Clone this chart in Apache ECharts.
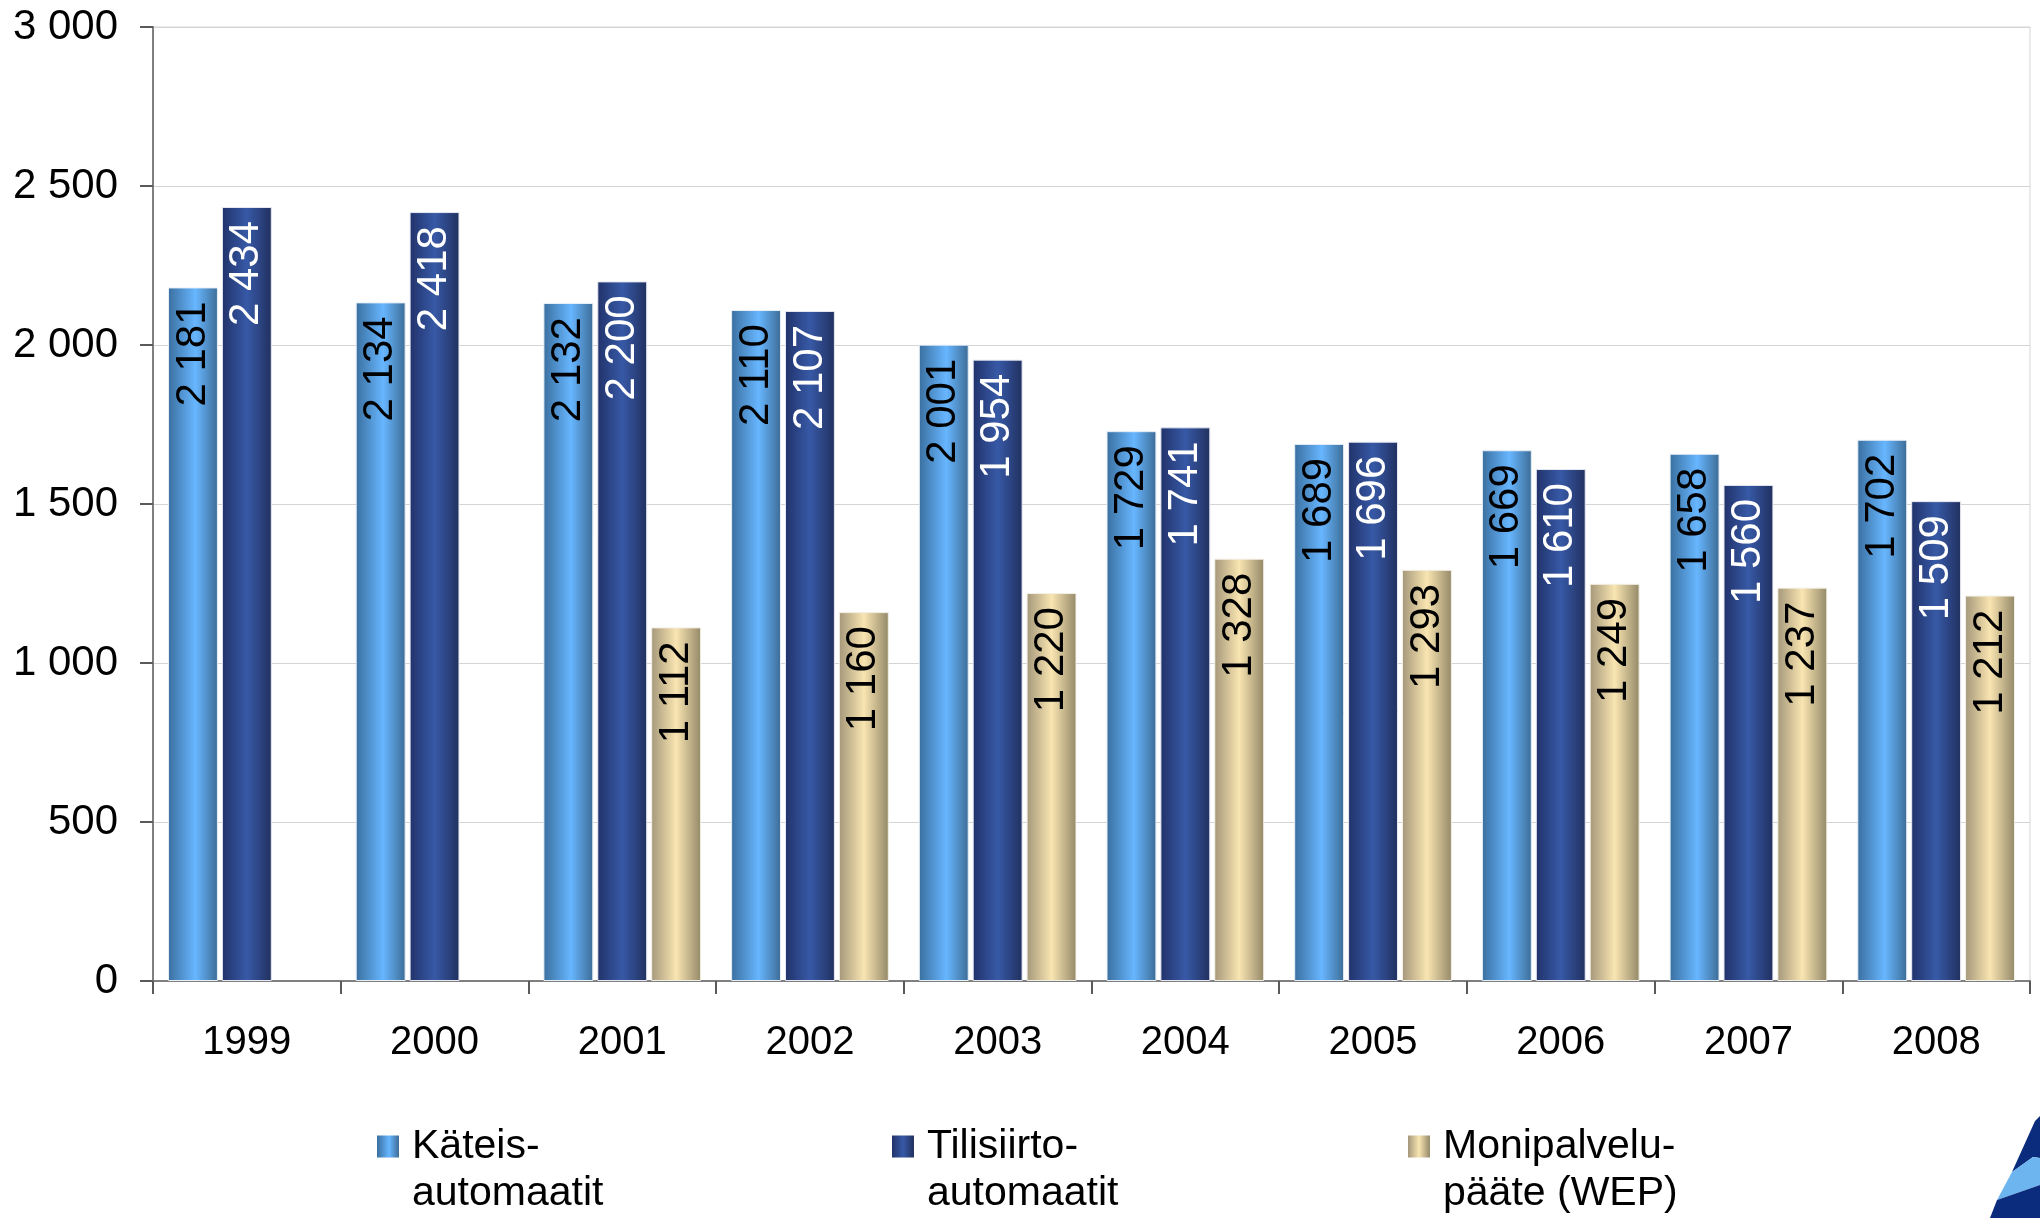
<!DOCTYPE html>
<html>
<head>
<meta charset="utf-8">
<script src="https://cdn.jsdelivr.net/npm/echarts@6/dist/echarts.min.js"></script>
<style>
html,body{margin:0;padding:0;background:#fff;}
#chart{width:2040px;height:1218px;}
</style>
</head>
<body>
<div id="chart"></div>
<script>
var years = ['1999','2000','2001','2002','2003','2004','2005','2006','2007','2008'];
var kateis = [2181, 2134, 2132, 2110, 2001, 1729, 1689, 1669, 1658, 1702];
var tilisiirto = [2434, 2418, 2200, 2107, 1954, 1741, 1696, 1610, 1560, 1509];
var monipalvelu = [null, null, 1112, 1160, 1220, 1328, 1293, 1249, 1237, 1212];
var seriesNames = ['Käteis-\nautomaatit', 'Tilisiirto-\nautomaatit', 'Monipalvelu-\npääte (WEP)'];

var FONT = '"Liberation Sans", Arial, sans-serif';

function fmt(v) {
  var s = String(Math.round(v));
  return s.replace(/\B(?=(\d{3})+(?!\d))/g, ' ');
}
function grad(stops) {
  return new echarts.graphic.LinearGradient(0, 0, 1, 0, stops);
}
var colLight = grad([{offset:0,color:'#3a6f9f'},{offset:0.55,color:'#67b6ff'},{offset:1,color:'#3d6c96'}]);
var colDark = grad([{offset:0,color:'#21326a'},{offset:0.5,color:'#3759a6'},{offset:1,color:'#21305f'}]);
var colTan = grad([{offset:0,color:'#a4977a'},{offset:0.5,color:'#f9e5b1'},{offset:1,color:'#938868'}]);

function labelCfg(color) {
  return {
    show: true,
    position: 'insideTop',
    rotate: 90,
    align: 'right',
    verticalAlign: 'middle',
    distance: 14,
    color: color,
    fontSize: 42,
    fontFamily: FONT,
    formatter: function (p) { return fmt(p.value); }
  };
}

// icon: square on top, invisible point extends box downward so square aligns with first text line
var legendIcon = 'path://M0,0L10,0L10,10L0,10Z M0,31.4L0.001,31.4Z';
function legendCfg(name, left) {
  return {
    data: [name],
    left: left,
    top: 1123,
    padding: 0,
    icon: legendIcon,
    itemWidth: 22,
    itemHeight: 69,
    itemStyle: { borderWidth: 0 },
    textStyle: { fontSize: 41, fontFamily: FONT, color: '#000', lineHeight: 47, padding: [0, 0, 0, 8] },
    selectedMode: false
  };
}

var chart = echarts.init(document.getElementById('chart'), null, {renderer: 'canvas'});
chart.setOption({
  animation: false,
  backgroundColor: '#ffffff',
  grid: { left: 153, right: 10, top: 27, bottom: 237, show: true, borderColor: '#d4d4d4', borderWidth: 1, backgroundColor: 'transparent' },
  legend: [
    legendCfg(seriesNames[0], 377),
    legendCfg(seriesNames[1], 892),
    legendCfg(seriesNames[2], 1408)
  ],
  xAxis: {
    type: 'category',
    data: years,
    axisLine: { lineStyle: { color: '#7f7f7f', width: 2 } },
    axisTick: { show: true, length: 13, lineStyle: { color: '#5a5a5a', width: 2 } },
    axisLabel: { color: '#000', fontSize: 40, fontFamily: FONT, margin: 42 }
  },
  yAxis: {
    type: 'value',
    min: 0,
    max: 3000,
    interval: 500,
    axisLine: { show: true, lineStyle: { color: '#7f7f7f', width: 2 } },
    axisTick: { show: true, length: 13, lineStyle: { color: '#5a5a5a', width: 2 } },
    axisLabel: { color: '#000', fontSize: 42, fontFamily: FONT, margin: 35, formatter: function (v) { return fmt(v); } },
    splitLine: { lineStyle: { color: '#d4d4d4', width: 1 } }
  },
  series: [
    {
      name: seriesNames[0], type: 'bar', data: kateis,
      barCategoryGap: '16%', barGap: '8%',
      itemStyle: { color: colLight, borderColor: '#e6eef6', borderWidth: 1 },
      label: labelCfg('#000')
    },
    {
      name: seriesNames[1], type: 'bar', data: tilisiirto,
      barCategoryGap: '16%', barGap: '8%',
      itemStyle: { color: colDark, borderColor: '#e6e9f2', borderWidth: 1 },
      label: labelCfg('#fff')
    },
    {
      name: seriesNames[2], type: 'bar', data: monipalvelu,
      barCategoryGap: '16%', barGap: '8%',
      itemStyle: { color: colTan, borderColor: '#f2efe6', borderWidth: 1 },
      label: labelCfg('#000')
    }
  ],
  graphic: [
    { type: 'polygon', silent: true, shape: { points: [[2035,1121],[2040,1116],[2040,1158],[2033,1157],[2012,1172]] }, style: { fill: '#0b2c7c' } },
    { type: 'polygon', silent: true, shape: { points: [[2012,1172],[2033,1157],[2040,1158],[2040,1185],[1997,1200]] }, style: { fill: '#6db5ef' } },
    { type: 'polygon', silent: true, shape: { points: [[1997,1200],[2040,1185],[2040,1218],[1990,1218]] }, style: { fill: '#0b2c7c' } }
  ]
});
</script>
</body>
</html>
